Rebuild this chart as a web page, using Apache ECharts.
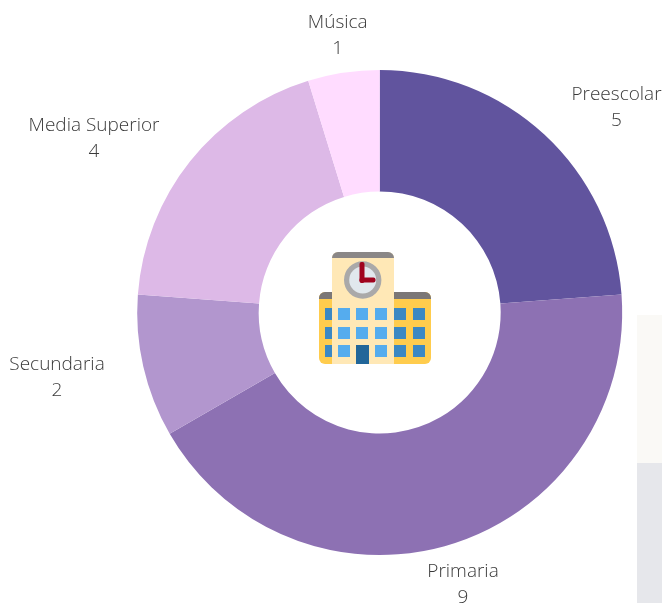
<!DOCTYPE html>
<html><head><meta charset="utf-8">
<style>html,body{margin:0;padding:0;background:#fff}#c{width:662px;height:603px}</style>
<script src="https://cdn.jsdelivr.net/npm/echarts@6/dist/echarts.min.js"></script>
</head><body><div id="c"></div>
<script>
const categories = ['Preescolar','Primaria','Secundaria','Media Superior','Música'];
const values = [5,9,2,4,1];
const colors = ['#61549E','#8D71B3','#B296CE','#DDB9E7','#FFDCFF'];
const labelCenters = {Preescolar:[616.5,108],Primaria:[463,585],Secundaria:[57,378],'Media Superior':[94,139],'Música':[337.7,36]};

const rect=(x,y,w,h,fill,r)=>({type:'rect',shape:{x,y,width:w,height:h,r:r||0},style:{fill}});
const wx=[338,356,375], rows=[308,327,345];
const icon=[
  rect(637,315,25,148,'#FAF9F6'),
  rect(637,463,25,140,'#E6E7EB'),
  rect(319,292,112,72,'#FFCC4D',[6,6,6,6]),
  rect(319,292,112,7,'#7B7777',[6,6,0,0]),
  rect(332,252,62,112,'#FFE8B6',[6,6,0,0]),
  rect(332,252,62,6,'#8A8787',[6,6,0,0]),
];
[325,394,413].forEach(x=>rows.forEach(y=>icon.push(rect(x,y,x===325?7:12,12,'#3B88C3'))));
wx.forEach(x=>rows.forEach(y=>{ if(!(x===356&&y===345)) icon.push(rect(x,y,12,12,'#55ACEE')); }));
icon.push(rect(356,345,13,19,'#226699'));
icon.push({type:'circle',shape:{cx:362.7,cy:280,r:18.7},style:{fill:'#AAA9A9'}});
icon.push({type:'circle',shape:{cx:362.7,cy:280,r:13.5},style:{fill:'#E1E8ED'}});
icon.push(rect(359.5,262,5,21,'#A0041E',2));
icon.push(rect(359.5,277.5,16,5,'#A0041E',2));

const chart=echarts.init(document.getElementById('c'),null,{renderer:'canvas'});
chart.setOption({
  animation:false,
  graphic:{elements:icon},
  series:[{
    type:'pie',
    center:[379.7,312.5],
    radius:[121,242.5],
    startAngle:90,
    clockwise:true,
    data:categories.map((n,i)=>({name:n,value:values[i],itemStyle:{color:colors[i]}})),
    label:{show:true,formatter:'{b}\n{c}',color:'#3a3a3a',fontFamily:'Open Sans',fontWeight:300,fontSize:19,lineHeight:26,align:'center',verticalAlign:'middle',overflow:'none',width:200},
    labelLine:{show:false},
    labelLayout:p=>{
      const c=labelCenters[categories[p.dataIndex]];
      return {x:c[0],y:c[1],align:'center',verticalAlign:'middle',hideOverlap:false};
    }
  }]
});
</script></body></html>
